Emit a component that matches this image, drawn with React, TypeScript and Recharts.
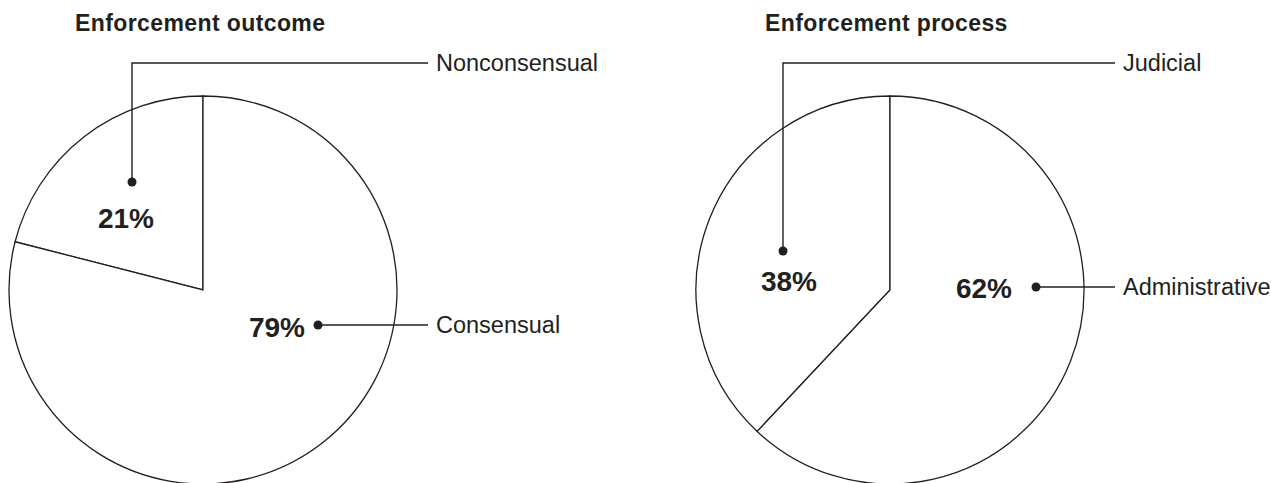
import { PieChart, Pie, Cell } from 'recharts';

const outcomeNames = ['Nonconsensual', 'Consensual'];
const outcomeValues = [21, 79];
const processNames = ['Judicial', 'Administrative'];
const processValues = [38, 62];

const outcomeData = outcomeNames.map((name, i) => ({ name, value: outcomeValues[i] }));
const processData = processNames.map((name, i) => ({ name, value: processValues[i] }));

const INK = '#231f20';
const FONT = '"Liberation Sans", Arial, Helvetica, sans-serif';
const R = 194;
const LEFT = { cx: 203, cy: 290 };
const RIGHT = { cx: 890, cy: 290 };

// label placement relative to pie centre (hand-placed, like the original)
type LabelPos = { dot: [number, number]; pct: [number, number]; anchor: 'middle' | 'end'; up: boolean };
const outcomeLabels: LabelPos[] = [
  { dot: [-71, -108], pct: [-6, 46], anchor: 'middle', up: true },
  { dot: [115, 35], pct: [-13, 12], anchor: 'end', up: false },
];
const processLabels: LabelPos[] = [
  { dot: [-107, -39], pct: [6, 40], anchor: 'middle', up: true },
  { dot: [146, -3], pct: [-24, 11], anchor: 'end', up: false },
];
const LEAD_END = 225;
const LEAD_TEXT = 233;
const LEAD_TOP = -227;

function makeLabel(center: { cx: number; cy: number }, layout: LabelPos[]) {
  return (props: any) => {
    const pos = layout[props.index];
    const dx = center.cx + pos.dot[0];
    const dy = center.cy + pos.dot[1];
    const lineY = pos.up ? center.cy + LEAD_TOP : dy;
    const endX = center.cx + LEAD_END;
    const points = pos.up
      ? `${dx},${dy} ${dx},${lineY} ${endX},${lineY}`
      : `${dx},${dy} ${endX},${lineY}`;
    return (
      <g key={`lbl-${props.index}`}>
        <polyline points={points} fill="none" stroke={INK} strokeWidth={1.4} />
        <circle cx={dx} cy={dy} r={4.5} fill={INK} />
        <text
          x={dx + pos.pct[0]}
          y={dy + pos.pct[1]}
          textAnchor={pos.anchor}
          fontFamily={FONT}
          fontWeight="bold"
          fontSize={28}
          fill={INK}
        >
          {`${props.value}%`}
        </text>
        <text x={center.cx + LEAD_TEXT} y={lineY + 8} fontFamily={FONT} fontSize={23.5} fill={INK}>
          {props.name}
        </text>
      </g>
    );
  };
}

export default function App() {
  return (
    <div style={{ position: 'absolute', left: 0, top: 0, width: 1271, height: 483, background: '#fff' }}>
      <PieChart width={1271} height={483} margin={{ top: 0, right: 0, bottom: 0, left: 0 }}>
        <Pie
          data={outcomeData}
          dataKey="value"
          nameKey="name"
          cx={LEFT.cx}
          cy={LEFT.cy}
          outerRadius={R}
          startAngle={90}
          endAngle={450}
          stroke={INK}
          strokeWidth={1.3}
          labelLine={false}
          label={makeLabel(LEFT, outcomeLabels)}
          isAnimationActive={false}
        >
          {outcomeData.map((d) => (
            <Cell key={d.name} fill="#ffffff" />
          ))}
        </Pie>
        <Pie
          data={processData}
          dataKey="value"
          nameKey="name"
          cx={RIGHT.cx}
          cy={RIGHT.cy}
          outerRadius={R}
          startAngle={90}
          endAngle={450}
          stroke={INK}
          strokeWidth={1.3}
          labelLine={false}
          label={makeLabel(RIGHT, processLabels)}
          isAnimationActive={false}
        >
          {processData.map((d) => (
            <Cell key={d.name} fill="#ffffff" />
          ))}
        </Pie>
      </PieChart>
      <svg width={1271} height={483} style={{ position: 'absolute', left: 0, top: 0, pointerEvents: 'none' }}>
        <text x={LEFT.cx - 128} y={31} fontFamily={FONT} fontWeight="bold" fontSize={23} letterSpacing={0.4} fill={INK}>
          Enforcement outcome
        </text>
        <text x={RIGHT.cx - 125} y={31} fontFamily={FONT} fontWeight="bold" fontSize={23} letterSpacing={0.4} fill={INK}>
          Enforcement process
        </text>
      </svg>
    </div>
  );
}
